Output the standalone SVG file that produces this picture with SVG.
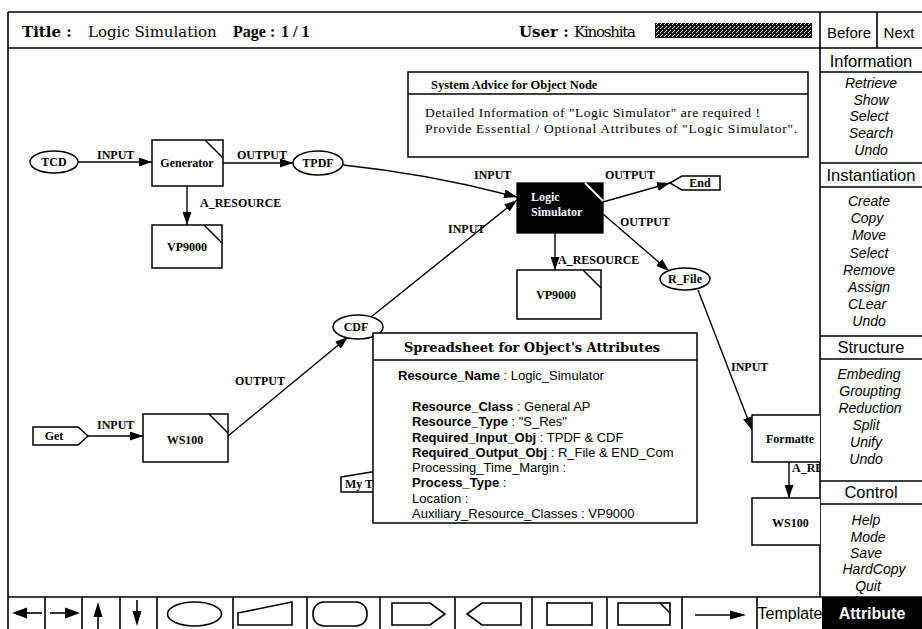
<svg xmlns="http://www.w3.org/2000/svg" width="922" height="629" viewBox="0 0 922 629">
  <defs>
    <marker id="arrow" markerWidth="13" markerHeight="9" refX="13" refY="4.5" orient="auto" markerUnits="userSpaceOnUse">
      <path d="M0,0 L13,4.5 L0,9 Z" fill="#000"/>
    </marker>
    <pattern id="dither" width="4" height="4" patternUnits="userSpaceOnUse">
      <rect width="4" height="4" fill="#111"/>
      <rect x="0" y="0" width="1" height="1" fill="#fff"/>
      <rect x="2" y="2" width="1" height="1" fill="#fff"/>
      <rect x="1" y="3" width="1" height="1" fill="#ddd"/>
    </pattern>
    <clipPath id="canvas-clip">
      <rect x="8" y="48" width="812" height="549"/>
    </clipPath>
    <style>
      .frame { fill: none; stroke: #000; stroke-width: 1.6; }
      .node { fill: #fff; stroke: #000; stroke-width: 1.5; }
      .diag { fill: none; stroke: #000; stroke-width: 1.5; }
      .conn { fill: none; stroke: #000; stroke-width: 1.4; marker-end: url(#arrow); }
      .serif { font-family: "Liberation Serif", "Times New Roman", serif; }
      .wide { font-family: "DejaVu Serif", "Liberation Serif", serif; }
      .sans { font-family: "Liberation Sans", Arial, sans-serif; }
      .ttl { font-size: 15px; }
      .b { font-weight: bold; }
      .lbl { font-family: "Liberation Serif", serif; font-size: 12px; font-weight: bold; }
      .name { font-family: "Liberation Serif", serif; font-size: 12px; font-weight: bold; text-anchor: middle; }
      .menu-h { font-family: "Liberation Sans", Arial, sans-serif; font-size: 16.5px; text-anchor: middle; }
      .menu-i { font-family: "Liberation Sans", Arial, sans-serif; font-size: 14px; font-style: italic; text-anchor: middle; }
      .sheet { font-family: "Liberation Sans", Arial, sans-serif; font-size: 13px; }
      .icon { fill: none; stroke: #000; stroke-width: 1.6; }
    </style>
  </defs>

  <rect width="922" height="629" fill="#fff"/>

  <!-- title bar -->
  <g id="title-bar">
    <text class="wide ttl b" x="22" y="37" font-size="16">Title :</text>
    <text class="wide ttl" x="88" y="37">Logic Simulation</text>
    <text class="serif b" x="233" y="37" font-size="16">Page :</text>
    <text class="serif b" x="281" y="37" font-size="16">1 / 1</text>
    <text class="wide ttl b" x="519" y="37">User :</text>
    <text class="wide ttl" x="574" y="37" textLength="62">Kinoshita</text>
    <rect x="655" y="23" width="157" height="15" fill="url(#dither)"/>
    <text class="sans" x="849" y="38" font-size="15" text-anchor="middle">Before</text>
    <text class="sans" x="899" y="38" font-size="15" text-anchor="middle">Next</text>
  </g>

  <!-- outer frame and panel rules -->
  <g id="frame">
    <line class="frame" x1="8" y1="12" x2="922" y2="12"/>
    <line class="frame" x1="8" y1="48" x2="922" y2="48"/>
    <line class="frame" x1="8" y1="12" x2="8" y2="629"/>
    <line class="frame" x1="820" y1="12" x2="820" y2="597"/>
    <line class="frame" x1="877" y1="12" x2="877" y2="48"/>
    <line class="frame" x1="8" y1="597" x2="922" y2="597"/>
    <line class="frame" x1="820" y1="72" x2="922" y2="72"/>
    <line class="frame" x1="820" y1="163" x2="922" y2="163"/>
    <line class="frame" x1="820" y1="187" x2="922" y2="187"/>
    <line class="frame" x1="820" y1="336" x2="922" y2="336"/>
    <line class="frame" x1="820" y1="359" x2="922" y2="359"/>
    <line class="frame" x1="820" y1="481" x2="922" y2="481"/>
    <line class="frame" x1="820" y1="504" x2="922" y2="504"/>
  </g>

  <!-- command menu -->
  <g id="menu-information">
    <text class="menu-h" x="871" y="67">Information</text>
    <text class="menu-i" x="871" y="88">Retrieve</text>
    <text class="menu-i" x="871" y="105">Show</text>
    <text class="menu-i" x="869" y="121">Select</text>
    <text class="menu-i" x="871" y="138">Search</text>
    <text class="menu-i" x="871" y="155">Undo</text>
  </g>
  <g id="menu-instantiation">
    <text class="menu-h" x="871" y="181">Instantiation</text>
    <text class="menu-i" x="869" y="206">Create</text>
    <text class="menu-i" x="867" y="223">Copy</text>
    <text class="menu-i" x="869" y="240">Move</text>
    <text class="menu-i" x="869" y="258">Select</text>
    <text class="menu-i" x="869" y="275">Remove</text>
    <text class="menu-i" x="869" y="292">Assign</text>
    <text class="menu-i" x="867" y="309">CLear</text>
    <text class="menu-i" x="869" y="326">Undo</text>
  </g>
  <g id="menu-structure">
    <text class="menu-h" x="871" y="353">Structure</text>
    <text class="menu-i" x="869" y="379">Embeding</text>
    <text class="menu-i" x="870" y="396">Groupting</text>
    <text class="menu-i" x="870" y="413">Reduction</text>
    <text class="menu-i" x="866" y="430">Split</text>
    <text class="menu-i" x="866" y="447">Unify</text>
    <text class="menu-i" x="866" y="464">Undo</text>
  </g>
  <g id="menu-control">
    <text class="menu-h" x="871" y="498">Control</text>
    <text class="menu-i" x="866" y="525">Help</text>
    <text class="menu-i" x="868" y="542">Mode</text>
    <text class="menu-i" x="866" y="558">Save</text>
    <text class="menu-i" x="874" y="574">HardCopy</text>
    <text class="menu-i" x="868" y="591">Quit</text>
  </g>

  <!-- drawing tool palette -->
  <g id="palette">
    <line class="frame" x1="45" y1="597" x2="45" y2="629"/>
    <line class="frame" x1="82" y1="597" x2="82" y2="629"/>
    <line class="frame" x1="120" y1="597" x2="120" y2="629"/>
    <line class="frame" x1="157" y1="597" x2="157" y2="629"/>
    <line class="frame" x1="233" y1="597" x2="233" y2="629"/>
    <line class="frame" x1="307" y1="597" x2="307" y2="629"/>
    <line class="frame" x1="380" y1="597" x2="380" y2="629"/>
    <line class="frame" x1="455" y1="597" x2="455" y2="629"/>
    <line class="frame" x1="532" y1="597" x2="532" y2="629"/>
    <line class="frame" x1="607" y1="597" x2="607" y2="629"/>
    <line class="frame" x1="682" y1="597" x2="682" y2="629"/>
    <line class="frame" x1="757" y1="597" x2="757" y2="629"/>
    <!-- arrows -->
    <line class="icon" x1="24" y1="613" x2="42" y2="613"/>
    <path d="M12,613 L27,607.5 L27,618.5 Z"/>
    <line class="icon" x1="50" y1="613" x2="68" y2="613"/>
    <path d="M80,613 L65,607.5 L65,618.5 Z"/>
    <line class="icon" x1="98" y1="612" x2="98" y2="629"/>
    <path d="M98,602 L93.5,617 L102.5,617 Z"/>
    <line class="icon" x1="137" y1="600" x2="137" y2="614"/>
    <path d="M137,626 L132.5,611 L141.5,611 Z"/>
    <!-- node shapes -->
    <ellipse class="icon" cx="194.5" cy="614" rx="27" ry="12"/>
    <path class="icon" d="M238,613 L292,602 L292,625 L238,625 Z"/>
    <rect class="icon" x="313" y="602" width="54" height="24" rx="11"/>
    <path class="icon" d="M392,603 L430,603 L445,614 L430,625 L392,625 Z"/>
    <path class="icon" d="M467,614 L482,603 L521,603 L521,625 L482,625 Z"/>
    <rect class="icon" x="547" y="603" width="45" height="22"/>
    <rect class="icon" x="618" y="603" width="52" height="22"/>
    <line class="icon" x1="660" y1="603" x2="670" y2="613"/>
    <line class="icon" x1="695" y1="615" x2="733" y2="615"/>
    <path d="M746,615 L730,610.5 L730,619.5 Z"/>
    <text class="sans" x="790" y="619" font-size="16" text-anchor="middle">Template</text>
    <rect x="822" y="597" width="100" height="32" fill="#000"/>
    <text class="sans b" x="872" y="619" font-size="16" fill="#fff" text-anchor="middle">Attribute</text>
  </g>

  <g clip-path="url(#canvas-clip)">
    <!-- connectors -->
    <g id="connectors">
      <line class="conn" x1="78" y1="162" x2="152" y2="162"/>
      <line class="conn" x1="223" y1="163" x2="293" y2="163"/>
      <line class="conn" x1="187" y1="186" x2="187" y2="225"/>
      <path class="conn" d="M343,165 Q430,174 517,197"/>
      <line class="conn" x1="371" y1="317" x2="517" y2="200"/>
      <line class="conn" x1="603" y1="202" x2="670" y2="183"/>
      <line class="conn" x1="603" y1="214" x2="669" y2="271"/>
      <line class="conn" x1="555" y1="233" x2="555" y2="270"/>
      <line class="conn" x1="698" y1="290" x2="752" y2="430"/>
      <line class="conn" x1="789" y1="462" x2="789" y2="498"/>
      <line class="conn" x1="88" y1="436" x2="143" y2="436"/>
      <line class="conn" x1="228" y1="436" x2="348" y2="337"/>

      <text class="lbl" x="97" y="159">INPUT</text>
      <text class="lbl" x="237" y="159">OUTPUT</text>
      <text class="lbl" x="200" y="207">A_RESOURCE</text>
      <text class="lbl" x="474" y="179">INPUT</text>
      <text class="lbl" x="605" y="179">OUTPUT</text>
      <text class="lbl" x="448" y="233">INPUT</text>
      <text class="lbl" x="620" y="226">OUTPUT</text>
      <text class="lbl" x="558" y="264">A_RESOURCE</text>
      <text class="lbl" x="235" y="385">OUTPUT</text>
      <text class="lbl" x="97" y="429">INPUT</text>
      <text class="lbl" x="731" y="371">INPUT</text>
      <text class="lbl" x="792" y="472">A_RE</text>
    </g>

    <!-- object nodes -->
    <g id="node-tcd">
      <ellipse class="node" cx="54" cy="162" rx="24" ry="11"/>
      <text class="name" x="54" y="166">TCD</text>
    </g>
    <g id="node-generator">
      <rect class="node" x="152" y="140" width="71" height="46"/>
      <line class="diag" x1="205" y1="140" x2="223" y2="158"/>
      <text class="name" x="187" y="167" font-weight="normal" font-size="12.5">Generator</text>
    </g>
    <g id="node-tpdf">
      <ellipse class="node" cx="318" cy="163" rx="25" ry="12"/>
      <text class="name" x="318" y="167">TPDF</text>
    </g>
    <g id="node-vp9000-a">
      <rect class="node" x="152" y="225" width="70" height="43"/>
      <line class="diag" x1="204" y1="225" x2="222" y2="243"/>
      <text class="name" x="187" y="251">VP9000</text>
    </g>
    <g id="node-logic-simulator">
      <rect x="517" y="183" width="86" height="50" fill="#000" stroke="#000" stroke-width="1.3"/>
      <line x1="585" y1="183" x2="603" y2="201" stroke="#fff" stroke-width="2"/>
      <text class="lbl" x="531" y="201" fill="#fff">Logic</text>
      <text class="lbl" x="531" y="216" fill="#fff">Simulator</text>
    </g>
    <g id="node-end">
      <path class="node" d="M670,183 L682,176 L720,176 L720,190 L682,190 Z"/>
      <text class="name" x="700" y="187">End</text>
    </g>
    <g id="node-vp9000-b">
      <rect class="node" x="517" y="270" width="84" height="49"/>
      <line class="diag" x1="583" y1="270" x2="601" y2="288"/>
      <text class="name" x="556" y="299">VP9000</text>
    </g>
    <g id="node-r-file">
      <ellipse class="node" cx="685" cy="279" rx="25" ry="11"/>
      <text class="name" x="685" y="283">R_File</text>
    </g>
    <g id="node-cdf">
      <ellipse class="node" cx="358" cy="327" rx="25" ry="12"/>
      <text class="name" x="356" y="331">CDF</text>
    </g>
    <g id="node-get">
      <path class="node" d="M33,427 L78,427 L88,436 L78,445 L33,445 Z"/>
      <text class="name" x="54" y="440">Get</text>
    </g>
    <g id="node-ws100-a">
      <rect class="node" x="143" y="414" width="85" height="48"/>
      <line class="diag" x1="209" y1="414" x2="228" y2="433"/>
      <text class="name" x="185" y="444">WS100</text>
    </g>
    <g id="node-formatter">
      <rect class="node" x="752" y="415" width="90" height="47"/>
      <text class="lbl" x="766" y="443" font-weight="normal" font-size="12.5">Formatte</text>
    </g>
    <g id="node-ws100-b">
      <rect class="node" x="752" y="498" width="90" height="47"/>
      <text class="lbl" x="772" y="527">WS100</text>
    </g>
    <g id="node-my-t">
      <path class="node" d="M341,477 L378,471 L378,492 L341,492 Z"/>
      <text class="lbl" x="345" y="488">My T</text>
    </g>

    <!-- attribute spreadsheet -->
    <g id="spreadsheet">
      <rect class="node" x="373" y="333" width="324" height="190"/>
      <line class="diag" x1="373" y1="360" x2="697" y2="360"/>
      <text class="wide b" x="404" y="352" font-size="13" textLength="256">Spreadsheet for Object's Attributes</text>
      <text class="sheet" x="398" y="380"><tspan class="b">Resource_Name</tspan>  : Logic_Simulator</text>
      <text class="sheet" x="412" y="411"><tspan class="b">Resource_Class</tspan> : General AP</text>
      <text class="sheet" x="412" y="426"><tspan class="b">Resource_Type</tspan> : "S_Res"</text>
      <text class="sheet" x="412" y="442"><tspan class="b">Required_Input_Obj</tspan> : TPDF &amp; CDF</text>
      <text class="sheet" x="412" y="457"><tspan class="b">Required_Output_Obj</tspan> : R_File &amp; END_Com</text>
      <text class="sheet" x="412" y="472">Processing_Time_Margin :</text>
      <text class="sheet" x="412" y="487"><tspan class="b">Process_Type</tspan> :</text>
      <text class="sheet" x="412" y="503">Location :</text>
      <text class="sheet" x="412" y="518">Auxiliary_Resource_Classes : VP9000</text>
    </g>

    <!-- system advice -->
    <g id="advice">
      <rect class="node" x="408" y="72" width="400" height="85"/>
      <line class="diag" x1="408" y1="94" x2="808" y2="94"/>
      <text class="serif b" x="431" y="89" font-size="12.5">System Advice for Object Node</text>
      <text class="serif" x="425" y="117" font-size="13.5" textLength="335">Detailed Information of "Logic Simulator" are required !</text>
      <text class="serif" x="425" y="133" font-size="13.5" textLength="372">Provide Essential / Optional Attributes of "Logic Simulator".</text>
    </g>
  </g>
</svg>
